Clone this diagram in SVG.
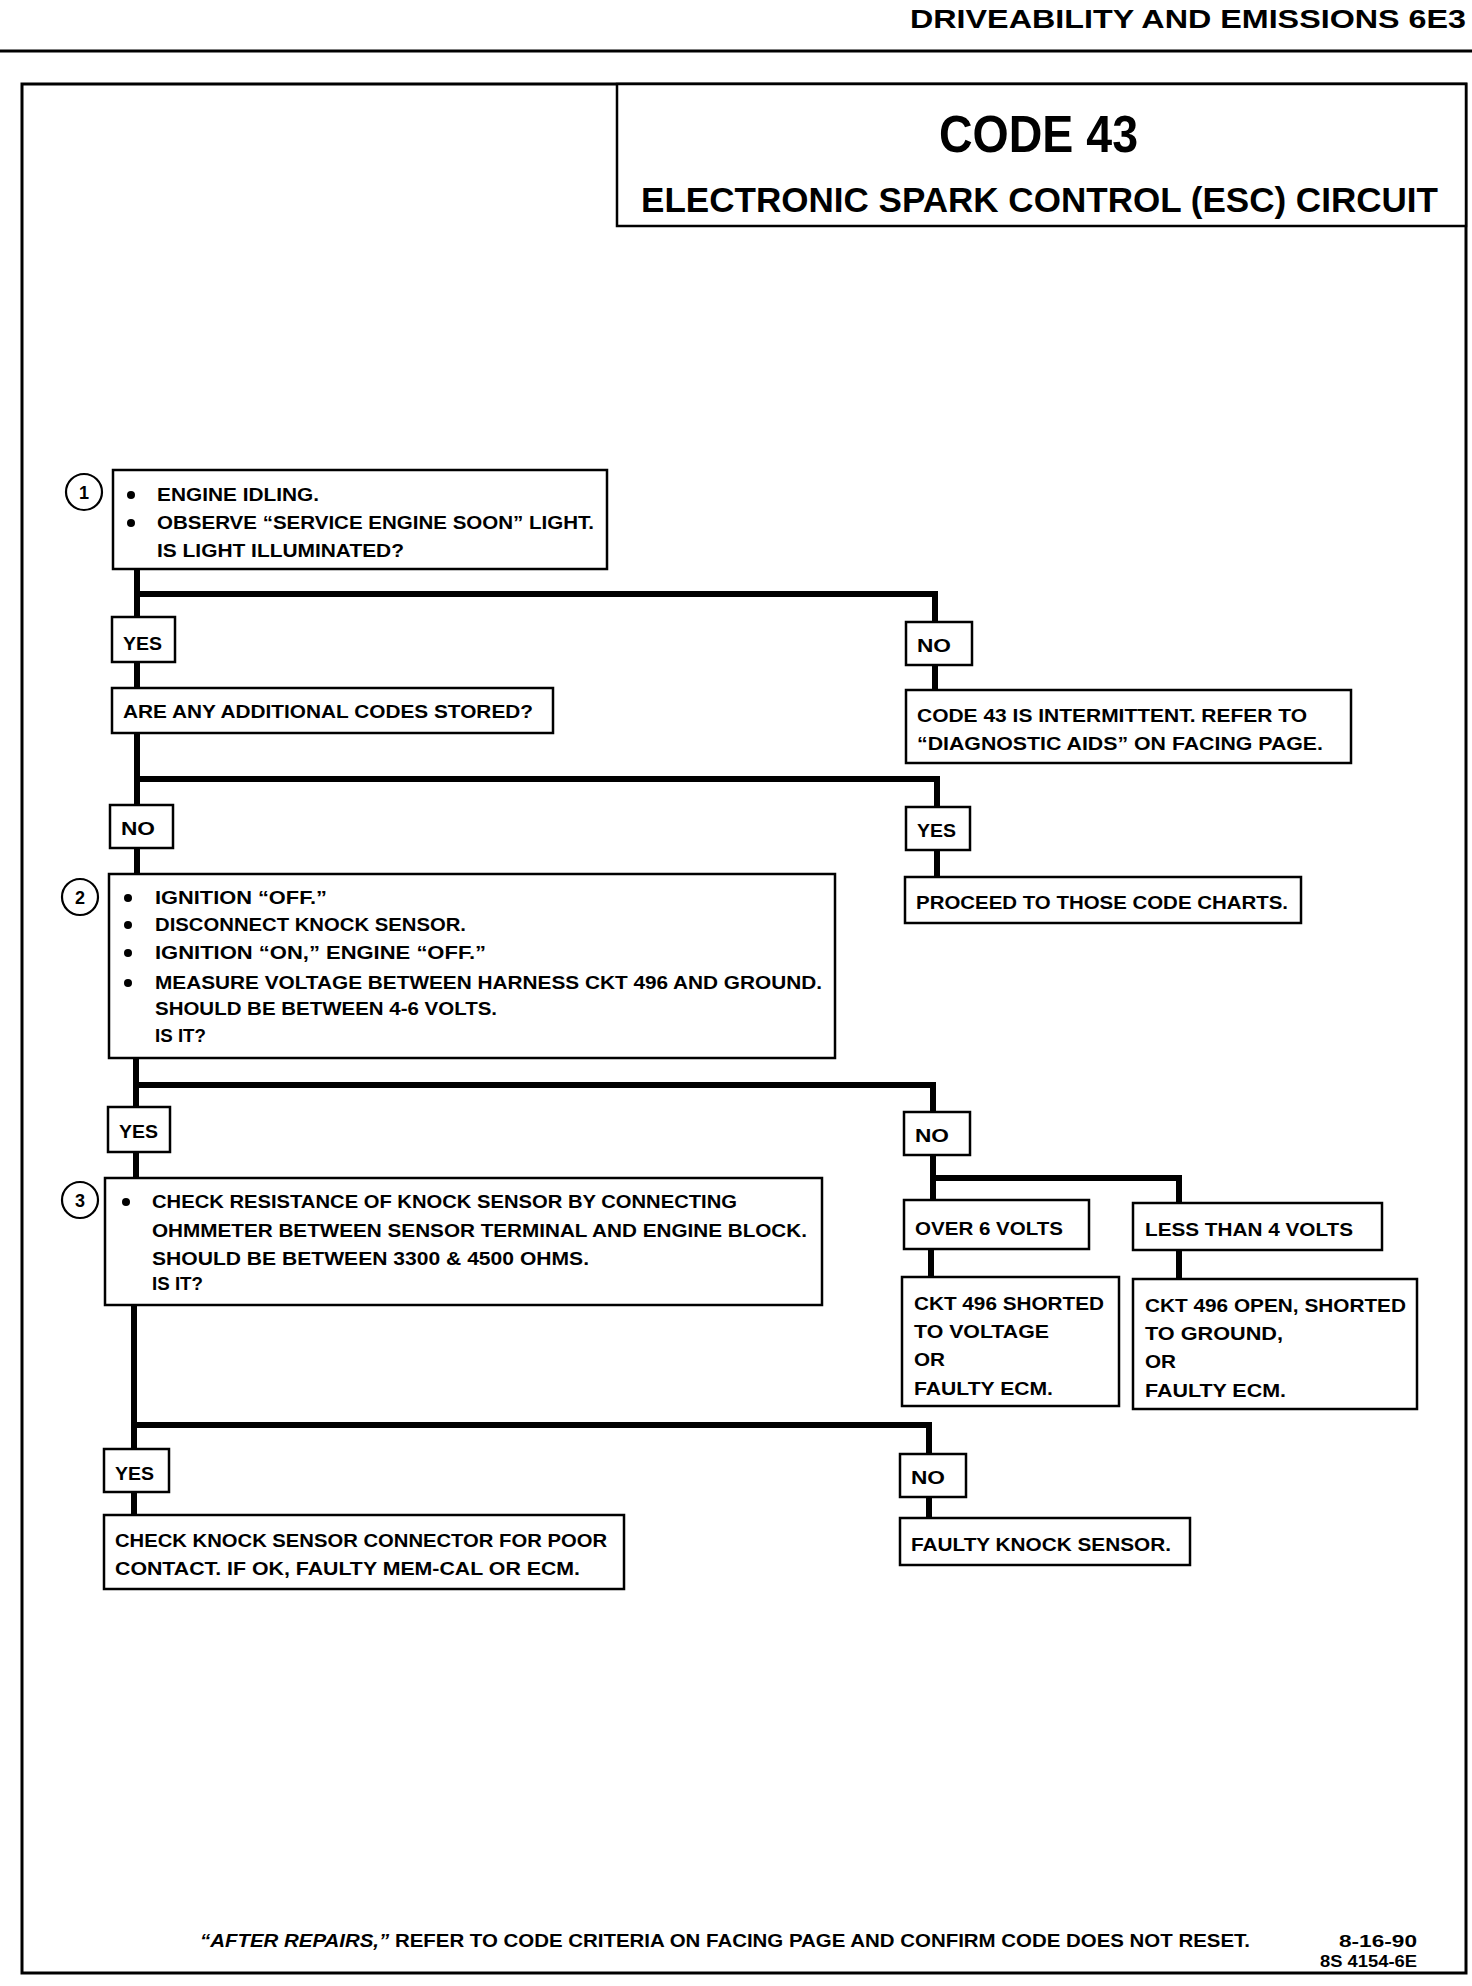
<svg xmlns="http://www.w3.org/2000/svg" width="1472" height="1986" viewBox="0 0 1472 1986">
<style>
.box{fill:#fff;stroke:#000;stroke-width:2.5}
.conn{fill:none;stroke:#000;stroke-width:6}
.t{font-family:"Liberation Sans",Arial,sans-serif;font-weight:bold;font-size:19px;fill:#000}
.num{font-family:"Liberation Sans",Arial,sans-serif;font-weight:bold;font-size:18px;fill:#000;text-anchor:middle}
.circ{fill:#fff;stroke:#000;stroke-width:2.2}
.bul{fill:#000}
</style>
<rect x="0" y="0" width="1472" height="1986" fill="#fff"/>
<text class="t" x="910" y="28" style="font-size:26px" textLength="556" lengthAdjust="spacingAndGlyphs">DRIVEABILITY AND EMISSIONS  6E3</text>
<line x1="0" y1="51" x2="1472" y2="51" stroke="#000" stroke-width="3"/>
<rect x="22" y="84" width="1444" height="1889" fill="none" stroke="#000" stroke-width="3"/>
<g id="title">
<rect x="617" y="84" width="849" height="142" fill="#fff" stroke="#000" stroke-width="2.5"/>
<text class="t" x="939" y="152" style="font-size:52px" textLength="199" lengthAdjust="spacingAndGlyphs">CODE 43</text>
<text class="t" x="641" y="212" style="font-size:35px" textLength="797" lengthAdjust="spacingAndGlyphs">ELECTRONIC SPARK CONTROL (ESC) CIRCUIT</text>
</g>
<g id="connectors">
<path class="conn" d="M137 569 V688"/>
<path class="conn" d="M137 594 H935 V690"/>
<path class="conn" d="M137 733 V874"/>
<path class="conn" d="M137 779 H937 V877"/>
<path class="conn" d="M136 1058 V1178"/>
<path class="conn" d="M136 1085 H933 V1200"/>
<path class="conn" d="M933 1178 H1179 V1203"/>
<path class="conn" d="M931 1249 V1277"/>
<path class="conn" d="M1179 1250 V1279"/>
<path class="conn" d="M134 1305 V1515"/>
<path class="conn" d="M134 1425 H929 V1518"/>
</g>
<g id="step1">
<circle class="circ" cx="84" cy="492" r="18"/>
<text class="num" x="84" y="499">1</text>
<rect class="box" x="113" y="470" width="494" height="99"/>
<circle class="bul" cx="131" cy="495" r="4"/>
<circle class="bul" cx="131" cy="523" r="4"/>
<text class="t" x="157" y="501" textLength="162" lengthAdjust="spacingAndGlyphs">ENGINE IDLING.</text>
<text class="t" x="157" y="529" textLength="437" lengthAdjust="spacingAndGlyphs">OBSERVE “SERVICE ENGINE SOON” LIGHT.</text>
<text class="t" x="157" y="557" textLength="247" lengthAdjust="spacingAndGlyphs">IS LIGHT ILLUMINATED?</text>
</g>
<g id="yes1">
<rect class="box" x="112" y="617" width="63" height="45"/>
<text class="t" x="123" y="650" textLength="39" lengthAdjust="spacingAndGlyphs">YES</text>
</g>
<g id="no1">
<rect class="box" x="906" y="622" width="66" height="43"/>
<text class="t" x="917" y="652" textLength="34" lengthAdjust="spacingAndGlyphs">NO</text>
</g>
<g id="additional">
<rect class="box" x="112" y="688" width="441" height="45"/>
<text class="t" x="123" y="718" textLength="410" lengthAdjust="spacingAndGlyphs">ARE ANY ADDITIONAL CODES STORED?</text>
</g>
<g id="intermittent">
<rect class="box" x="906" y="690" width="445" height="73"/>
<text class="t" x="917" y="722" textLength="390" lengthAdjust="spacingAndGlyphs">CODE 43 IS INTERMITTENT.  REFER TO</text>
<text class="t" x="917" y="750" textLength="406" lengthAdjust="spacingAndGlyphs">“DIAGNOSTIC AIDS” ON FACING PAGE.</text>
</g>
<g id="no2">
<rect class="box" x="110" y="805" width="63" height="43"/>
<text class="t" x="121" y="835" textLength="34" lengthAdjust="spacingAndGlyphs">NO</text>
</g>
<g id="yes2">
<rect class="box" x="906" y="807" width="64" height="43"/>
<text class="t" x="917" y="837" textLength="39" lengthAdjust="spacingAndGlyphs">YES</text>
</g>
<g id="proceed">
<rect class="box" x="905" y="877" width="396" height="46"/>
<text class="t" x="916" y="909" textLength="372" lengthAdjust="spacingAndGlyphs">PROCEED TO THOSE CODE CHARTS.</text>
</g>
<g id="step2">
<circle class="circ" cx="80" cy="897" r="18"/>
<text class="num" x="80" y="904">2</text>
<rect class="box" x="109" y="874" width="726" height="184"/>
<circle class="bul" cx="128" cy="898" r="4"/>
<circle class="bul" cx="128" cy="925" r="4"/>
<circle class="bul" cx="128" cy="953" r="4"/>
<circle class="bul" cx="128" cy="983" r="4"/>
<text class="t" x="155" y="904" textLength="172" lengthAdjust="spacingAndGlyphs">IGNITION “OFF.”</text>
<text class="t" x="155" y="931" textLength="311" lengthAdjust="spacingAndGlyphs">DISCONNECT KNOCK SENSOR.</text>
<text class="t" x="155" y="959" textLength="331" lengthAdjust="spacingAndGlyphs">IGNITION “ON,”  ENGINE “OFF.”</text>
<text class="t" x="155" y="989" textLength="667" lengthAdjust="spacingAndGlyphs">MEASURE VOLTAGE BETWEEN HARNESS CKT 496 AND GROUND.</text>
<text class="t" x="155" y="1015" textLength="342" lengthAdjust="spacingAndGlyphs">SHOULD BE BETWEEN 4-6 VOLTS.</text>
<text class="t" x="155" y="1042" textLength="51" lengthAdjust="spacingAndGlyphs">IS IT?</text>
</g>
<g id="yes3">
<rect class="box" x="108" y="1107" width="62" height="45"/>
<text class="t" x="119" y="1138" textLength="39" lengthAdjust="spacingAndGlyphs">YES</text>
</g>
<g id="no3">
<rect class="box" x="904" y="1112" width="66" height="43"/>
<text class="t" x="915" y="1142" textLength="34" lengthAdjust="spacingAndGlyphs">NO</text>
</g>
<g id="over6">
<rect class="box" x="904" y="1200" width="185" height="49"/>
<text class="t" x="915" y="1235" textLength="148" lengthAdjust="spacingAndGlyphs">OVER 6 VOLTS</text>
</g>
<g id="less4">
<rect class="box" x="1133" y="1203" width="249" height="47"/>
<text class="t" x="1145" y="1236" textLength="208" lengthAdjust="spacingAndGlyphs">LESS THAN 4 VOLTS</text>
</g>
<g id="shorted">
<rect class="box" x="902" y="1277" width="217" height="129"/>
<text class="t" x="914" y="1310" textLength="190" lengthAdjust="spacingAndGlyphs">CKT 496 SHORTED</text>
<text class="t" x="914" y="1338" textLength="135" lengthAdjust="spacingAndGlyphs">TO VOLTAGE</text>
<text class="t" x="914" y="1366" textLength="31" lengthAdjust="spacingAndGlyphs">OR</text>
<text class="t" x="914" y="1395" textLength="139" lengthAdjust="spacingAndGlyphs">FAULTY ECM.</text>
</g>
<g id="open">
<rect class="box" x="1133" y="1279" width="284" height="130"/>
<text class="t" x="1145" y="1312" textLength="261" lengthAdjust="spacingAndGlyphs">CKT 496 OPEN, SHORTED</text>
<text class="t" x="1145" y="1340" textLength="138" lengthAdjust="spacingAndGlyphs">TO GROUND,</text>
<text class="t" x="1145" y="1368" textLength="31" lengthAdjust="spacingAndGlyphs">OR</text>
<text class="t" x="1145" y="1397" textLength="141" lengthAdjust="spacingAndGlyphs">FAULTY ECM.</text>
</g>
<g id="step3">
<circle class="circ" cx="80" cy="1200" r="18"/>
<text class="num" x="80" y="1207">3</text>
<rect class="box" x="105" y="1178" width="717" height="127"/>
<circle class="bul" cx="126" cy="1202" r="4"/>
<text class="t" x="152" y="1208" textLength="585" lengthAdjust="spacingAndGlyphs">CHECK RESISTANCE OF KNOCK SENSOR BY CONNECTING</text>
<text class="t" x="152" y="1237" textLength="655" lengthAdjust="spacingAndGlyphs">OHMMETER BETWEEN SENSOR TERMINAL AND ENGINE BLOCK.</text>
<text class="t" x="152" y="1265" textLength="437" lengthAdjust="spacingAndGlyphs">SHOULD BE BETWEEN 3300 &amp; 4500 OHMS.</text>
<text class="t" x="152" y="1290" textLength="51" lengthAdjust="spacingAndGlyphs">IS IT?</text>
</g>
<g id="yes4">
<rect class="box" x="104" y="1449" width="65" height="43"/>
<text class="t" x="115" y="1480" textLength="39" lengthAdjust="spacingAndGlyphs">YES</text>
</g>
<g id="no4">
<rect class="box" x="900" y="1454" width="66" height="43"/>
<text class="t" x="911" y="1484" textLength="34" lengthAdjust="spacingAndGlyphs">NO</text>
</g>
<g id="connector-check">
<rect class="box" x="104" y="1515" width="520" height="74"/>
<text class="t" x="115" y="1547" textLength="492" lengthAdjust="spacingAndGlyphs">CHECK KNOCK SENSOR CONNECTOR FOR POOR</text>
<text class="t" x="115" y="1575" textLength="465" lengthAdjust="spacingAndGlyphs">CONTACT.  IF OK, FAULTY MEM-CAL OR ECM.</text>
</g>
<g id="faulty-sensor">
<rect class="box" x="900" y="1518" width="290" height="47"/>
<text class="t" x="911" y="1551" textLength="260" lengthAdjust="spacingAndGlyphs">FAULTY KNOCK SENSOR.</text>
</g>
<g id="footer">
<text class="t" x="200" y="1947" style="font-size:18px" textLength="1050" lengthAdjust="spacingAndGlyphs"><tspan font-style="italic">“AFTER REPAIRS,”</tspan> REFER TO CODE CRITERIA ON FACING PAGE AND CONFIRM CODE DOES NOT RESET.</text>
<text class="t" x="1339" y="1947" style="font-size:17px" textLength="78" lengthAdjust="spacingAndGlyphs">8-16-90</text>
<text class="t" x="1320" y="1967" style="font-size:17px" textLength="97" lengthAdjust="spacingAndGlyphs">8S 4154-6E</text>
</g>
</svg>
